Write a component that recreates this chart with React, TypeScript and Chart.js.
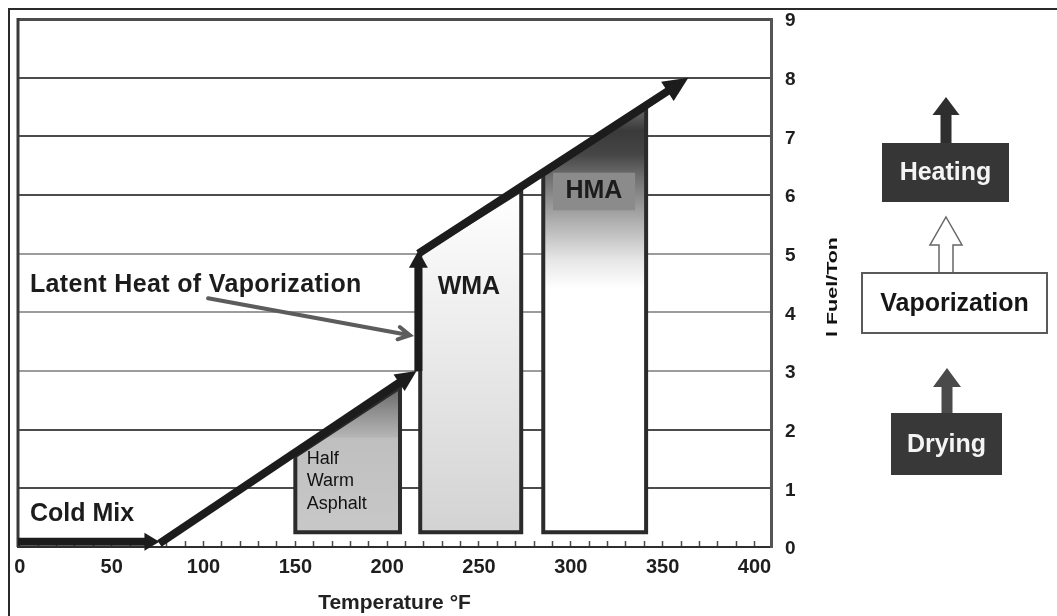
import { useEffect, useRef } from 'react';
import { Chart, registerables } from 'chart.js';

Chart.register(...registerables);

// Temperature axis (°F)
const tempMin = -1;
const tempMax = 409;
const tempTickMarks = [
  0, 10, 20, 30, 40, 50, 60, 70, 80, 90, 100, 110, 120, 130, 140, 150, 160, 170, 180, 190, 200,
  210, 220, 230, 240, 250, 260, 270, 280, 290, 300, 310, 320, 330, 340, 350, 360, 370, 380, 390, 400,
];
const tempLabelStep = 50;

// Fuel axis (l/ton)
const fuelMin = 0;
const fuelMax = 9;
const fuelTicks = [0, 1, 2, 3, 4, 5, 6, 7, 8, 9];

// Energy path: each segment ends in an arrowhead
const coldMixTemp = [-1, 76];
const coldMixFuel = [0.09, 0.09];
const dryingTemp = [76, 216];
const dryingFuel = [0.06, 3.0];
const vaporTemp = [217, 217];
const vaporFuel = [3.0, 5.05];
const heatingTemp = [217, 364];
const heatingFuel = [5.0, 8.0];

// Mix production ranges, topped by the energy path
const mixNames = ['Half Warm Asphalt', 'WMA', 'HMA'];
const mixTempFrom = [150, 218, 285];
const mixTempTo = [207, 273, 341];
const mixFuelBase = [0.25, 0.25, 0.25];
const mixFuelTopFrom = [1.55, 5.0, 6.35];
const mixFuelTopTo = [2.72, 6.08, 7.48];

// Process stages, listed top to bottom
const stageNames = ['Heating', 'Vaporization', 'Drying'];

const SANS = '"Liberation Sans", Arial, Helvetica, sans-serif';
const INK = '#1c1c1c';

// Shading of each mix shape: [fuel level, colour]
const mixShades: [number, string][][] = [
  [[2.8, '#666666'], [2.3, '#909090'], [1.88, '#b4b4b4'], [1.85, '#bfbfbf'], [0.25, '#c8c8c8']],
  [[6.1, '#ffffff'], [4.6, '#f3f3f3'], [0.25, '#d3d3d3']],
  [[7.5, '#6a6a6a'], [7.1, '#3a3a3a'], [6.7, '#454545'], [6.3, '#707070'], [5.5, '#b3b3b3'], [4.9, '#e6e6e6'], [4.4, '#ffffff'], [0.25, '#ffffff']],
];

// Head sizes (length, half width) for each path segment
const arrowHeads = [
  [15, 9],
  [21, 10],
  [17, 9.5],
  [25, 11.5],
];

// Text placed on the plot, in axis units
const notes = {
  latent: { text: 'Latent Heat of Vaporization', t: 5.5, f: 4.47 },
  latentFrom: { t: 102.5, f: 4.24 },
  latentTo: { t: 212.4, f: 3.61 },
  coldMix: { text: 'Cold Mix', t: 5.5, f: 0.56 },
  wma: { text: 'WMA', t: 227.5, f: 4.43 },
  hma: { text: 'HMA', t: 312.6, f: 6.06 },
  hmaPatch: { t0: 290.3, t1: 335, f0: 5.74, f1: 6.38 },
  half: { lines: ['Half', 'Warm', 'Asphalt'], t: 156.2, f: [1.42, 1.04, 0.65] },
};

const yTitle = 'l Fuel/Ton';

function blockArrow(
  ctx: CanvasRenderingContext2D,
  cx: number,
  tipY: number,
  headBaseY: number,
  bottomY: number,
  headHalf: number,
  shaftHalf: number,
) {
  ctx.beginPath();
  ctx.moveTo(cx, tipY);
  ctx.lineTo(cx + headHalf, headBaseY);
  ctx.lineTo(cx + shaftHalf, headBaseY);
  ctx.lineTo(cx + shaftHalf, bottomY);
  ctx.lineTo(cx - shaftHalf, bottomY);
  ctx.lineTo(cx - shaftHalf, headBaseY);
  ctx.lineTo(cx - headHalf, headBaseY);
  ctx.closePath();
}

const diagramPlugin = {
  id: 'asphaltDiagram',
  beforeDatasetsDraw(chart: any) {
    const { ctx, chartArea } = chart;
    const x = chart.scales.x;
    const y = chart.scales.y;
    const X = (v: number) => x.getPixelForValue(v);
    const Y = (v: number) => y.getPixelForValue(v);
    ctx.save();

    // left edge of the plot frame
    ctx.strokeStyle = '#3a3a3a';
    ctx.lineWidth = 3;
    ctx.beginPath();
    ctx.moveTo(chartArea.left, chartArea.top - 1);
    ctx.lineTo(chartArea.left, chartArea.bottom);
    ctx.stroke();

    // mix shapes
    mixNames.forEach((_, i) => {
      const x0 = X(mixTempFrom[i]);
      const x1 = X(mixTempTo[i]);
      const yb = Y(mixFuelBase[i]);
      const yt0 = Y(mixFuelTopFrom[i]);
      const yt1 = Y(mixFuelTopTo[i]);
      const top = Math.min(yt0, yt1);
      const g = ctx.createLinearGradient(0, top, 0, yb);
      mixShades[i].forEach(([v, c]) => {
        const s = (Y(v) - top) / (yb - top);
        g.addColorStop(Math.min(1, Math.max(0, s)), c);
      });
      ctx.beginPath();
      ctx.moveTo(x0, yb);
      ctx.lineTo(x0, yt0);
      ctx.lineTo(x1, yt1);
      ctx.lineTo(x1, yb);
      ctx.closePath();
      ctx.fillStyle = g;
      ctx.fill();
      ctx.lineWidth = 4;
      ctx.lineJoin = 'miter';
      ctx.strokeStyle = '#2b2b2b';
      ctx.stroke();
    });

    // HMA tag
    const p = notes.hmaPatch;
    ctx.fillStyle = '#8b8b8b';
    ctx.fillRect(X(p.t0), Y(p.f1), X(p.t1) - X(p.t0), Y(p.f0) - Y(p.f1));

    ctx.fillStyle = INK;
    ctx.textBaseline = 'middle';
    ctx.font = `bold 25px ${SANS}`;
    ctx.textAlign = 'center';
    ctx.fillText(notes.hma.text, X(notes.hma.t), Y(notes.hma.f));
    ctx.textAlign = 'left';
    ctx.fillText(notes.wma.text, X(notes.wma.t), Y(notes.wma.f));
    ctx.fillText(notes.coldMix.text, X(notes.coldMix.t), Y(notes.coldMix.f));
    (ctx as any).letterSpacing = '0.35px';
    ctx.fillText(notes.latent.text, X(notes.latent.t), Y(notes.latent.f));
    (ctx as any).letterSpacing = '0px';

    ctx.font = `18px ${SANS}`;
    ctx.fillStyle = '#111';
    ctx.textBaseline = 'alphabetic';
    notes.half.lines.forEach((line, k) => {
      ctx.fillText(line, X(notes.half.t), Y(notes.half.f[k]));
    });

    // pointer to the latent heat step
    const ax = X(notes.latentFrom.t);
    const ay = Y(notes.latentFrom.f);
    const bx = X(notes.latentTo.t);
    const by = Y(notes.latentTo.f);
    ctx.strokeStyle = '#5c5c5c';
    ctx.lineWidth = 4;
    ctx.lineCap = 'round';
    ctx.beginPath();
    ctx.moveTo(ax, ay);
    ctx.lineTo(bx, by);
    const ang = Math.atan2(by - ay, bx - ax);
    const hl = 13;
    ctx.moveTo(bx - hl * Math.cos(ang - 0.5), by - hl * Math.sin(ang - 0.5));
    ctx.lineTo(bx, by);
    ctx.lineTo(bx - hl * Math.cos(ang + 0.5), by - hl * Math.sin(ang + 0.5));
    ctx.stroke();
    ctx.restore();
  },
  afterDatasetsDraw(chart: any) {
    const { ctx } = chart;
    ctx.save();
    ctx.fillStyle = INK;
    ctx.strokeStyle = INK;
    chart.data.datasets.forEach((_: any, i: number) => {
      const pts = chart.getDatasetMeta(i).data.map((e: any) => ({ x: e.x, y: e.y }));
      const a = pts[pts.length - 2];
      const b = pts[pts.length - 1];
      const len = Math.hypot(b.x - a.x, b.y - a.y);
      const dx = (b.x - a.x) / len;
      const dy = (b.y - a.y) / len;
      const [hl, hw] = arrowHeads[i];
      const baseX = b.x - hl * dx;
      const baseY = b.y - hl * dy;
      ctx.lineWidth = 8;
      ctx.lineCap = 'butt';
      ctx.beginPath();
      ctx.moveTo(pts[0].x, pts[0].y);
      for (let k = 1; k < pts.length - 1; k++) ctx.lineTo(pts[k].x, pts[k].y);
      ctx.lineTo(baseX + 2 * dx, baseY + 2 * dy);
      ctx.stroke();
      ctx.beginPath();
      ctx.moveTo(b.x, b.y);
      ctx.lineTo(baseX - hw * dy, baseY + hw * dx);
      ctx.lineTo(baseX + hw * dy, baseY - hw * dx);
      ctx.closePath();
      ctx.fill();
    });
    ctx.restore();
  },
  afterDraw(chart: any) {
    const { ctx, chartArea } = chart;
    ctx.save();

    // fuel axis title, stretched along its length
    ctx.translate(chartArea.right + 62, (chartArea.top + chartArea.bottom) / 2 + 4);
    ctx.rotate(-Math.PI / 2);
    ctx.font = `bold 14px ${SANS}`;
    const w = ctx.measureText(yTitle).width;
    ctx.scale(100 / w, 1);
    ctx.fillStyle = '#111';
    ctx.textAlign = 'center';
    ctx.textBaseline = 'middle';
    ctx.fillText(yTitle, 0, 0);
    ctx.restore();

    // process stages
    ctx.save();
    const [heating, vaporization, drying] = stageNames;
    ctx.font = `bold 25px ${SANS}`;
    ctx.textAlign = 'center';
    ctx.textBaseline = 'middle';

    // Heating
    ctx.fillStyle = '#2e2e2e';
    blockArrow(ctx, 936, 87, 105, 134, 13.5, 5.5);
    ctx.fill();
    ctx.fillStyle = '#363636';
    ctx.fillRect(872, 133, 127, 59);
    ctx.fillStyle = '#f4f4f4';
    ctx.fillText(heating, 935.5, 163);

    // Vaporization
    ctx.fillStyle = '#ffffff';
    ctx.strokeStyle = '#666';
    ctx.lineWidth = 1.5;
    blockArrow(ctx, 936, 207, 235, 263, 16, 7);
    ctx.fill();
    ctx.stroke();
    ctx.lineWidth = 2;
    ctx.strokeStyle = '#5a5a5a';
    ctx.fillRect(852, 263, 185, 60);
    ctx.strokeRect(852, 263, 185, 60);
    ctx.fillStyle = '#161616';
    ctx.fillText(vaporization, 944.5, 294);

    // Drying
    ctx.fillStyle = '#4a4a4a';
    blockArrow(ctx, 937, 358, 377, 404, 14, 5.5);
    ctx.fill();
    ctx.fillStyle = '#383838';
    ctx.fillRect(881, 403, 111, 62);
    ctx.fillStyle = '#f4f4f4';
    ctx.fillText(drying, 936.5, 435);
    ctx.restore();
  },
};

const toPoints = (ts: number[], fs: number[]) => ts.map((t, i) => ({ x: t, y: fs[i] }));

export default function App() {
  const ref = useRef<HTMLCanvasElement>(null);

  useEffect(() => {
    const canvas = ref.current;
    if (!canvas) return;
    const chart = new Chart(canvas, {
      type: 'scatter',
      data: {
        datasets: [
          { label: 'Cold Mix', data: toPoints(coldMixTemp, coldMixFuel), pointRadius: 0, showLine: false },
          { label: 'Drying', data: toPoints(dryingTemp, dryingFuel), pointRadius: 0, showLine: false },
          { label: 'Vaporization', data: toPoints(vaporTemp, vaporFuel), pointRadius: 0, showLine: false },
          { label: 'Heating', data: toPoints(heatingTemp, heatingFuel), pointRadius: 0, showLine: false },
        ],
      },
      options: {
        animation: false,
        responsive: false,
        events: [],
        layout: { padding: { left: 8, top: 9, right: 216, bottom: 0 } },
        plugins: { legend: { display: false }, tooltip: { enabled: false } },
        scales: {
          x: {
            type: 'linear',
            position: 'bottom',
            min: tempMin,
            max: tempMax,
            afterBuildTicks: (axis: any) => {
              axis.ticks = tempTickMarks.map((v) => ({ value: v }));
            },
            afterFit: (axis: any) => {
              axis.height = 69;
              axis.paddingLeft = 0;
              axis.paddingRight = 0;
            },
            grid: {
              display: true,
              drawOnChartArea: false,
              drawTicks: true,
              tickLength: -6,
              tickColor: '#4a4a4a',
              tickWidth: 1.5,
            },
            border: { display: true, color: '#2e2e2e', width: 2 },
            ticks: {
              autoSkip: false,
              maxRotation: 0,
              padding: 14,
              color: '#1e1e1e',
              font: { family: SANS, size: 20, weight: 'bold' },
              callback: (v: any) => (Number(v) % tempLabelStep === 0 ? String(v) : ''),
            },
            title: {
              display: true,
              text: 'Temperature °F',
              color: '#222',
              font: { family: SANS, size: 21, weight: 'bold' },
              padding: 0,
            },
          },
          y: {
            type: 'linear',
            position: 'right',
            min: fuelMin,
            max: fuelMax,
            afterBuildTicks: (axis: any) => {
              axis.ticks = fuelTicks.map((v) => ({ value: v }));
            },
            afterFit: (axis: any) => {
              axis.width = 70;
              axis.paddingTop = 0;
              axis.paddingBottom = 0;
            },
            grid: {
              drawTicks: false,
              color: (c: any) => {
                const v = c.tick ? c.tick.value : 0;
                return v >= 3 && v <= 5 ? '#9c9c9c' : '#4c4c4c';
              },
              lineWidth: (c: any) => (c.tick && c.tick.value === fuelMax ? 3 : 2),
            },
            border: { display: true, color: '#555', width: 3 },
            ticks: {
              padding: 14,
              labelOffset: 2,
              color: '#1e1e1e',
              font: { family: SANS, size: 19, weight: 'bold', lineHeight: 1 },
            },
          },
        },
      } as any,
      plugins: [diagramPlugin],
    });
    return () => chart.destroy();
  }, []);

  return (
    <div
      style={{
        position: 'fixed',
        left: 8,
        top: 8,
        width: 1049,
        height: 608,
        borderTop: '2px solid #2a2a2a',
        borderLeft: '2px solid #2a2a2a',
        boxSizing: 'border-box',
        background: '#fff',
        overflow: 'hidden',
      }}
    >
      <canvas ref={ref} width={1047} height={606} style={{ display: 'block' }} />
    </div>
  );
}
